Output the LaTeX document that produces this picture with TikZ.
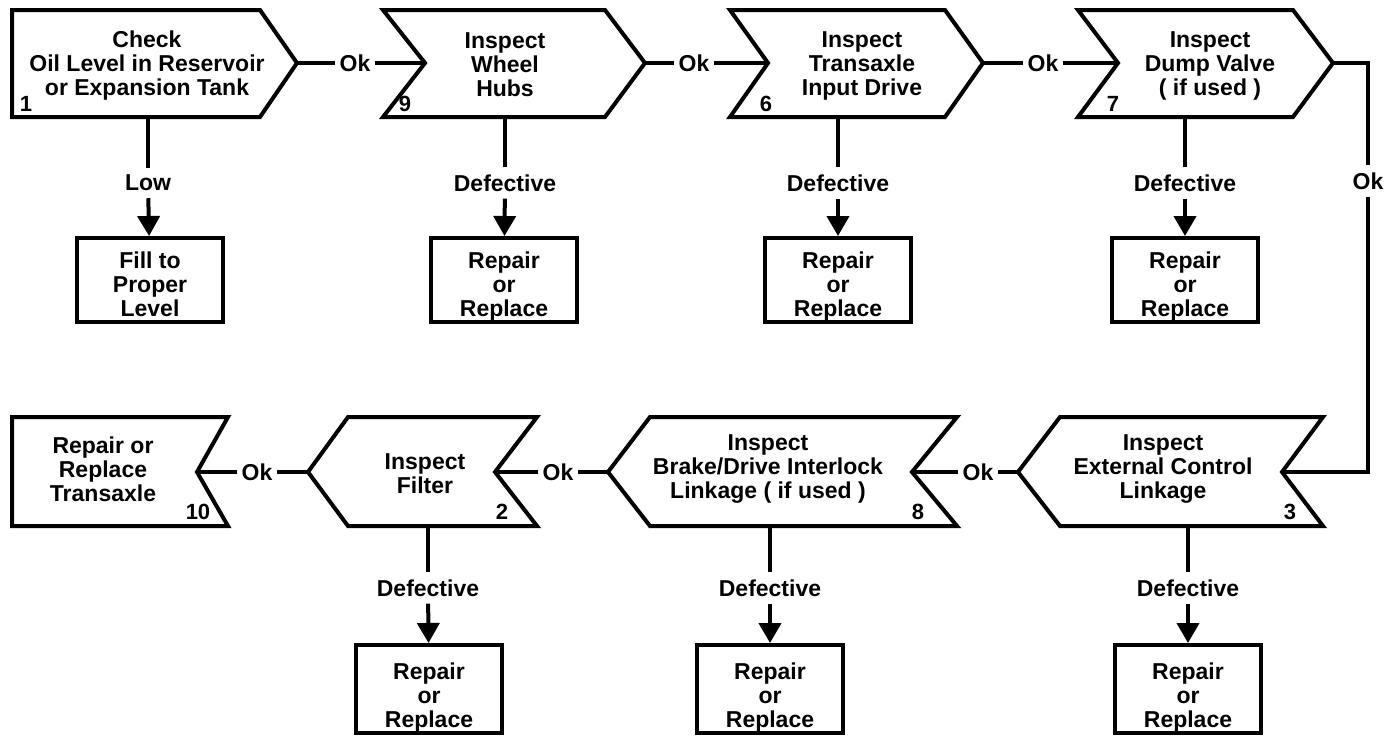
\documentclass[tikz,border=0pt]{standalone}
\usepackage{fontspec}
\setmainfont{Liberation Sans}
\usetikzlibrary{arrows.meta}
\newcommand\dstrut[1]{\rule{0pt}{#1pt}}
\tikzset{
  shp/.style={draw, line width=4pt, line join=miter},
  txt/.style={align=center, font=\bfseries\fontsize{23}{24}\selectfont, inner sep=0pt},
  lbl/.style={font=\bfseries\fontsize{23}{24}\selectfont, inner xsep=4pt, inner ysep=7pt},
  num/.style={font=\bfseries\fontsize{22}{24}\selectfont, inner sep=0pt},
  conn/.style={line width=4pt},
  arr/.style={line width=4pt, -{Triangle[width=22pt,length=20pt]}},
  rbox/.style={draw, line width=4pt, minimum width=146pt, minimum height=84pt, align=center,
               font=\bfseries\fontsize{23}{24}\selectfont, inner sep=0pt},
  rboxlow/.style={rbox, minimum height=88pt},
}
\begin{document}
\begin{tikzpicture}[x=1pt,y=-1pt]
\useasboundingbox (0,0) rectangle (1398,742);
% ---------- top row shapes ----------
\draw[shp] (12,10) -- (260,10) -- (297,63) -- (260,117) -- (12,117) -- cycle;
\draw[shp] (383,10) -- (605,10) -- (645,63) -- (605,117) -- (383,117) -- (425,63) -- cycle;
\draw[shp] (730,10) -- (945,10) -- (983,63) -- (945,117) -- (730,117) -- (768,63) -- cycle;
\draw[shp] (1078,10) -- (1293,10) -- (1333,63) -- (1293,117) -- (1078,117) -- (1118,63) -- cycle;
\coordinate (t1) at (297,63);
\coordinate (n9) at (425,63);
\coordinate (t9) at (645,63);
\coordinate (n6) at (768,63);
\coordinate (t6) at (983,63);
\coordinate (n7) at (1118,63);
\coordinate (t7) at (1333,63);
\coordinate (b1) at (148,117);
\coordinate (b9) at (505,117);
\coordinate (b6) at (838,117);
\coordinate (b7) at (1185,117);
\node[txt] (x1) at (147,66) {Check\\Oil Level in Reservoir\\or Expansion Tank};
\node[txt] (x9) at (505,65) {Inspect\\Wheel\\Hubs};
\node[txt] (x6) at (862,66) {Inspect\\Transaxle\\Input Drive};
\node[txt] (x7) at (1210,66) {Inspect\\Dump Valve\\( if used )};
\node[num] (m1) at (26,104) {1};
\node[num] (m9) at (405,104) {9};
\node[num] (m6) at (766,104) {6};
\node[num] (m7) at (1113,104) {7};
% ---------- bottom row shapes ----------
\draw[shp] (12,417) -- (228,417) -- (197,472) -- (228,526) -- (12,526) -- cycle;
\draw[shp] (308,472) -- (348,417) -- (537,417) -- (495,472) -- (537,526) -- (348,526) -- cycle;
\draw[shp] (608,472) -- (650,417) -- (957,417) -- (912,472) -- (957,526) -- (650,526) -- cycle;
\draw[shp] (1018,472) -- (1060,417) -- (1323,417) -- (1282,472) -- (1323,526) -- (1060,526) -- cycle;
\coordinate (n10) at (197,472);
\coordinate (t2) at (308,472);
\coordinate (n2) at (495,472);
\coordinate (t8) at (608,472);
\coordinate (n8) at (912,472);
\coordinate (t3) at (1018,472);
\coordinate (n3) at (1282,472);
\coordinate (b2) at (428,526);
\coordinate (b8) at (770,526);
\coordinate (b3) at (1188,526);
\node[txt] (x10) at (103,469) {Repair or\\Replace\\Transaxle};
\node[txt] (x2) at (425,474) {Inspect\\Filter};
\node[txt] (x8) at (768,469) {Inspect\\Brake/Drive Interlock\\Linkage ( if used )};
\node[txt] (x3) at (1163,469) {Inspect\\External Control\\Linkage};
\node[num] (m10) at (198,512) {10};
\node[num] (m2) at (502,512) {2};
\node[num] (m8) at (918,512) {8};
\node[num] (m3) at (1290,512) {3};
% ---------- result boxes ----------
\node[rbox] (r1) at (150,280) {\dstrut{25}Fill to\\Proper\\Level};
\node[rbox] (r9) at (504,280) {\dstrut{29}Repair\\or\\Replace};
\node[rbox] (r6) at (838,280) {\dstrut{29}Repair\\or\\Replace};
\node[rbox] (r7) at (1185,280) {\dstrut{29}Repair\\or\\Replace};
\node[rboxlow] (r2) at (429,689) {\dstrut{33}Repair\\or\\Replace};
\node[rboxlow] (r8) at (770,689) {\dstrut{33}Repair\\or\\Replace};
\node[rboxlow] (r3) at (1188,689) {\dstrut{33}Repair\\or\\Replace};
% ---------- labels ----------
\node[lbl] (lo) at (148,183) {Low};
\node[lbl] (d9) at (505,183) {Defective};
\node[lbl] (d6) at (838,183) {Defective};
\node[lbl] (d7) at (1185,183) {Defective};
\node[lbl] (d2) at (428,588) {Defective};
\node[lbl] (d8) at (770,588) {Defective};
\node[lbl] (d3) at (1188,588) {Defective};
\node[lbl] (o1) at (355,63) {Ok};
\node[lbl] (o2) at (694,63) {Ok};
\node[lbl] (o3) at (1043,63) {Ok};
\node[lbl] (o4) at (1368,181) {Ok};
\node[lbl] (o5) at (978,472) {Ok};
\node[lbl] (o6) at (558,472) {Ok};
\node[lbl] (o7) at (257,472) {Ok};
% ---------- connectors ----------
\draw[conn] (t1) -- (o1) -- (n9);
\draw[conn] (t9) -- (o2) -- (n6);
\draw[conn] (t6) -- (o3) -- (n7);
\draw[conn, line join=miter] (t7) -| (o4);
\draw[conn, line join=miter] (o4) |- (n3);
\draw[conn] (t3) -- (o5) -- (n8);
\draw[conn] (t8) -- (o6) -- (n2);
\draw[conn] (t2) -- (o7) -- (n10);
\foreach \b/\l/\r in {b1/lo/r1, b9/d9/r9, b6/d6/r6, b7/d7/r7, b2/d2/r2, b8/d8/r8, b3/d3/r3}{
  \draw[conn] (\b) -- (\l);
  \draw[arr] (\l) -- (\r);
}
\end{tikzpicture}
\end{document}
